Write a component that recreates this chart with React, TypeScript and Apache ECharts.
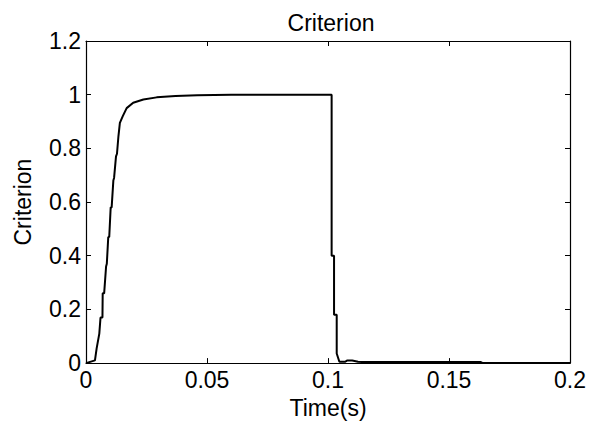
import React, { useEffect, useRef } from "react";
import * as echarts from "echarts";

const times = [
  0, 0.0037, 0.0044, 0.0055, 0.006, 0.0068, 0.0069, 0.0075, 0.0083, 0.0086,
  0.0092, 0.0096, 0.0102, 0.0106, 0.0113, 0.0116, 0.0124, 0.0128, 0.0134, 0.014,
  0.0152, 0.0168, 0.0195, 0.0237, 0.0292, 0.037, 0.046, 0.06, 0.1015, 0.1015,
  0.1025, 0.1025, 0.1036, 0.1036, 0.1047, 0.107, 0.108, 0.11, 0.1124, 0.114,
  0.163, 0.164, 0.2,
];
const criterion = [
  0, 0.01, 0.055, 0.11, 0.17, 0.17, 0.26, 0.26, 0.36, 0.37,
  0.47, 0.47, 0.58, 0.58, 0.68, 0.69, 0.77, 0.78, 0.845, 0.895,
  0.92, 0.95, 0.97, 0.982, 0.99, 0.995, 0.998, 1.0, 1.0, 0.4,
  0.4, 0.18, 0.18, 0.036, 0.005, 0.005, 0.01, 0.01, 0.005, 0.004,
  0.004, 0, 0,
];

const FONT = "'Liberation Sans', Arial, sans-serif";

export default function App() {
  const ref = useRef<HTMLDivElement>(null);
  useEffect(() => {
    if (!ref.current) return;
    const chart = echarts.init(ref.current, undefined, { renderer: "svg" });
    const data = times.map((t, i) => [t, criterion[i]]);
    const tickInside = { show: true, inside: true, length: 5, lineStyle: { color: "#000", width: 1 } };
    const axisLine = { show: true, onZero: false, lineStyle: { color: "#000", width: 1.2 } };
    chart.setOption({
      animation: false,
      backgroundColor: "#fff",
      textStyle: { fontFamily: FONT },
      title: {
        text: "Criterion",
        left: 326,
        top: 6,
        textAlign: "center",
        textStyle: { fontFamily: FONT, fontSize: 23, fontWeight: "normal", color: "#000" },
      },
      grid: { left: 86, right: 28, top: 41, bottom: 54, containLabel: false },
      xAxis: [
        {
          type: "value",
          min: 0,
          max: 0.2,
          interval: 0.05,
          position: "bottom",
          name: "Time(s)",
          nameLocation: "middle",
          nameGap: 28,
          nameTextStyle: { fontFamily: FONT, fontSize: 23, color: "#000" },
          axisLine,
          axisTick: tickInside,
          axisLabel: { fontFamily: FONT, fontSize: 23, color: "#000", margin: 5 },
          splitLine: { show: false },
        },
        {
          type: "value",
          min: 0,
          max: 0.2,
          interval: 0.05,
          position: "top",
          axisLine,
          axisTick: tickInside,
          axisLabel: { show: false },
          splitLine: { show: false },
        },
      ],
      yAxis: [
        {
          type: "value",
          min: 0,
          max: 1.2,
          interval: 0.2,
          position: "left",
          name: "Criterion",
          nameLocation: "middle",
          nameRotate: 90,
          nameGap: 52,
          nameTextStyle: { fontFamily: FONT, fontSize: 23, color: "#000" },
          axisLine,
          axisTick: tickInside,
          axisLabel: { fontFamily: FONT, fontSize: 23, color: "#000", margin: 5 },
          splitLine: { show: false },
        },
        {
          type: "value",
          min: 0,
          max: 1.2,
          interval: 0.2,
          position: "right",
          axisLine,
          axisTick: tickInside,
          axisLabel: { show: false },
          splitLine: { show: false },
        },
      ],
      series: [
        {
          type: "line",
          data,
          xAxisIndex: 0,
          yAxisIndex: 0,
          showSymbol: false,
          symbol: "none",
          lineStyle: { color: "#000", width: 2 },
          clip: true,
        },
      ],
    });
    return () => chart.dispose();
  }, []);
  return <div ref={ref} style={{ width: 598, height: 424, position: "absolute", left: 0, top: 0 }} />;
}
